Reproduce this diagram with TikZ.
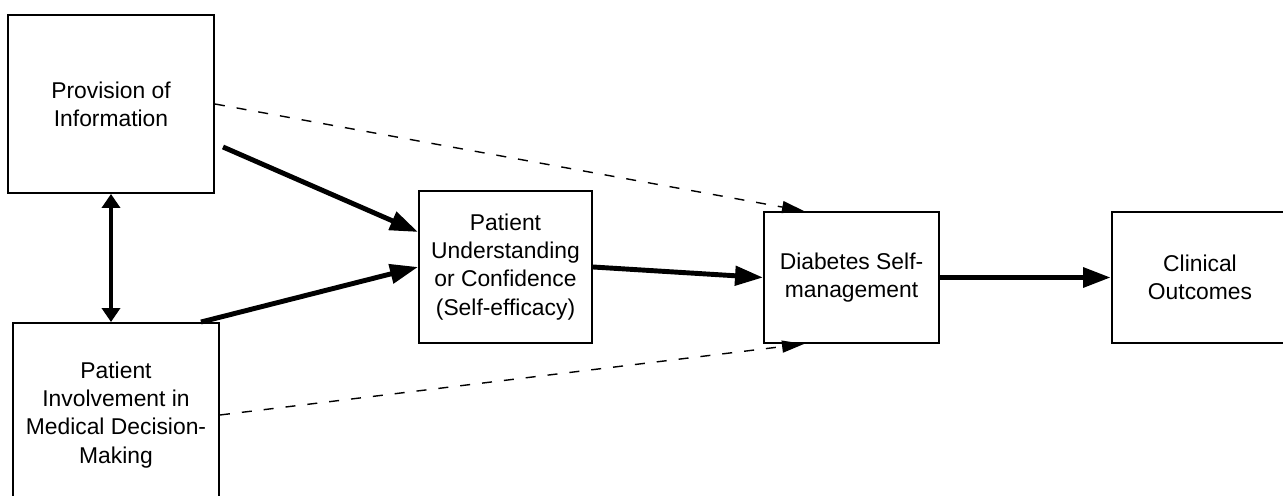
\documentclass[tikz,border=0pt]{standalone}
\usepackage{fontspec}
\setmainfont{Liberation Sans}
\usetikzlibrary{arrows.meta, calc}

\begin{document}
\begin{tikzpicture}[
            x=0.2mm, y=0.2mm,
            font=\fontsize{13}{16}\selectfont,
            box/.style = {draw, line width=1.1pt, align=center, inner sep=0pt},
            strong/.style = {line width=2.8pt, -{Triangle[length=5.6mm,width=3.8mm]}},
            weak/.style = {line width=0.8pt, dash pattern=on 2mm off 2.4mm, -{Triangle[length=4.4mm,width=2.4mm]}},
            both/.style = {line width=2.6pt, {Triangle[length=2.8mm,width=3.6mm]}-{Triangle[length=2.8mm,width=3.6mm]}},
        ]

\useasboundingbox (0,0) rectangle (1283,496);
\clip (0,0) rectangle (1283,496);

\node[box, minimum width=41.2mm, minimum height=35.6mm] (1) at (111,392) {Provision of\\Information};
\node[box, minimum width=41.2mm, minimum height=36.8mm] (2) at (116,81) {Patient\\Involvement in\\Medical Decision-\\Making};
\node[box, minimum width=34.6mm, minimum height=30.4mm] (3) at (505.5,229) {Patient\\Understanding\\or Confidence\\(Self-efficacy)};
\node[box, minimum width=35mm, minimum height=26.2mm] (4) at (851.5,218.5) {Diabetes Self-\\management};
\node[box, minimum width=35.2mm, minimum height=26.2mm] (5) at (1200,218.5) {Clinical\\Outcomes};

\coordinate (1a) at (223,349);

\draw[both] (1.south) -- (1.south |- 2.north);
\draw[weak] (1.east) -- ($(4.north west)+(41,0)$);
\draw[weak] (2.east) -- ($(4.south west)+(41,0)$);
\draw[strong] (1a) -- ($(3.west)+(0,35)$);
\draw[strong] ($(2.north east)+(-19,0)$) -- (3.west);
\draw[strong] (3.east) -- (4.west);
\draw[strong, line width=3.4pt] (4.east) -- (5.west);

\end{tikzpicture}
\end{document}
